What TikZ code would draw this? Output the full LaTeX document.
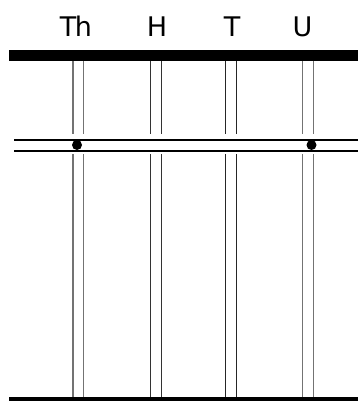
\documentclass[tikz,border=0pt]{standalone}
\usepackage{fontspec}
\setmainfont{DejaVu Sans}
\begin{document}
\begin{tikzpicture}[x=1pt,y=-1pt,
  lab/.style={font=\fontsize{27}{30}\selectfont, anchor=base, inner sep=0pt},
  vline/.style={line width=1.1pt},
  dotmark/.style={fill=black}]
\useasboundingbox (0,0) rectangle (358,401);
% labels
\node[lab] (th) at (76,37) {T\kern-1.5pt h};
\node[lab] (h) at (157,37) {H};
\node[lab] (t) at (232,37) {T};
\node[lab] (u) at (302.5,37) {U};
% vertical pairs
\foreach \a/\b/\c in {73/83.7/black!55, 150.7/161.3/black!80, 225.7/236.3/black!85, 302.7/313.3/black!55}{
  \draw[vline,\c] (\a,61) -- (\a,134);
  \draw[vline,\c] (\b,61) -- (\b,134);
  \draw[vline,\c] (\a,154) -- (\a,397);
  \draw[vline,\c] (\b,154) -- (\b,397);
}
% bars
\fill (9,50) rectangle (358,61);
\fill (9,397) rectangle (358,401);
\draw[line width=2pt] (14,139.5) -- (358,139.5);
\draw[line width=2pt] (14,150.5) -- (358,150.5);
% dots
\fill[dotmark] (77,145) circle (5pt);
\fill[dotmark] (311.5,145) circle (5pt);
\end{tikzpicture}
\end{document}
